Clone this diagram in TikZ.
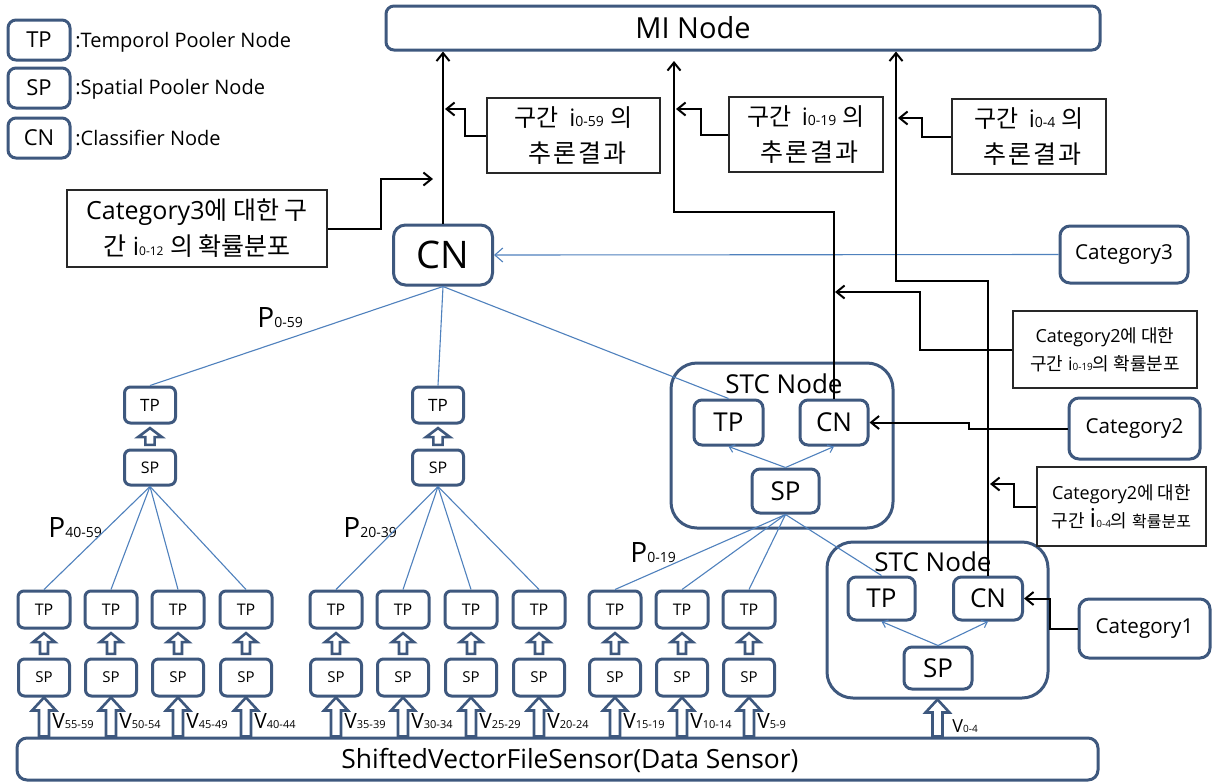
\documentclass[tikz,border=0pt]{standalone}
\usepackage{fontspec}
\setmainfont{Open Sans}
\newfontfamily\kr{Noto Sans CJK KR}
\newfontfamily\krw[LetterSpace=8]{Noto Sans CJK KR}
\usetikzlibrary{arrows.meta,calc}
\definecolor{boxblue}{RGB}{62,88,126}
\definecolor{lineblue}{RGB}{79,129,189}
\definecolor{frame}{RGB}{40,40,40}
\newcommand{\fsz}[2]{\fontsize{#1}{#2}\selectfont}
\newcommand{\sbx}[2]{{\fontsize{#1}{#1}\selectfont #2}}

\begin{document}
\begin{tikzpicture}[x=0.5pt,y=-0.5pt,
  wh/.style 2 args={minimum width=#1*0.5pt, minimum height=#2*0.5pt},
  rbox/.style={draw=boxblue, line width=1.5pt, fill=white, inner sep=0pt, align=center},
  note/.style={draw=frame, line width=0.7pt, fill=white, inner sep=0pt, align=center},
  conn/.style={draw=black, line width=1pt, -{Straight Barb[length=4pt,width=6.5pt]}},
  tree/.style={draw=lineblue, line width=0.55pt},
  feed/.style={draw=lineblue, line width=0.55pt, -{Straight Barb[length=2.5pt,width=4pt]}},
  hollowline/.style={draw=boxblue, line width=1.3pt, fill=white, line join=miter},
  hollow/.style n args={3}{to path={let \p1=(\tikztostart), \p2=(\tikztotarget) in
      (\x1-#1pt,\y1) -- (\x1-#1pt,\y2-#3pt) -- (\x1-#2pt,\y2-#3pt) -- (\x1,\y2)
      -- (\x1+#2pt,\y2-#3pt) -- (\x1+#1pt,\y2-#3pt) -- (\x1+#1pt,\y1) -- cycle}},
  legtxt/.style={anchor=west, inner sep=0pt, font=\fsz{10}{12}},
  plab/.style={anchor=base west, inner sep=0pt, font=\fsz{14}{16}},
  vlab/.style={anchor=base west, inner sep=0pt, font=\fsz{10.5}{12}},
]
\fill[white] (0,0) rectangle (1216,783);
\useasboundingbox (0,0) rectangle (1216,783);

% legend
\node[rbox, wh={62}{40}, rounded corners=4pt, font=\fsz{11}{13}] (lgTP) at (39,40) {TP};
\node[rbox, wh={62}{40}, rounded corners=4pt, font=\fsz{11}{13}] (lgSP) at (39,88) {SP};
\node[rbox, wh={62}{40}, rounded corners=4pt, font=\fsz{11}{13}] (lgCN) at (39,138) {CN};
\node[legtxt] (lgTPt) at (75,42) {:Temporol Pooler Node};
\node[legtxt] (lgSPt) at (75,89) {:Spatial Pooler Node};
\node[legtxt] (lgCNt) at (75,138) {:Classifier Node};

% top-level MI node
\node[rbox, wh={714}{44}, rounded corners=4pt] (mi) at (743,28) {};
\node[font=\fsz{14.5}{16}] (mitxt) at (693,28) {MI Node};

% classifier at the root of the hierarchy
\node[rbox, wh={99}{60}, rounded corners=6pt, font=\fsz{19}{22}] (cn) at (443,255) {CN};

% second-level pooler pairs
\node[rbox, wh={51}{36}, rounded corners=3pt, font=\fsz{8.5}{10}] (gTP1) at (150,405) {TP};
\node[rbox, wh={51}{35}, rounded corners=3pt, font=\fsz{8}{10}] (gSP1) at (150,467.5) {SP};
\node[rbox, wh={51}{36}, rounded corners=3pt, font=\fsz{8.5}{10}] (gTP2) at (438,405) {TP};
\node[rbox, wh={51}{35}, rounded corners=3pt, font=\fsz{8}{10}] (gSP2) at (438,467.5) {SP};

% upper STC node
\node[rbox, wh={222}{165}, rounded corners=13pt] (ustc) at (782,445.5) {};
\node[font=\fsz{13}{15}] (ustcT) at (784,384) {STC Node};
\node[rbox, wh={69}{45}, rounded corners=4pt, font=\fsz{13}{15}] (uTP) at (728.5,422.5) {TP};
\node[rbox, wh={68}{45}, rounded corners=4pt, font=\fsz{13}{15}] (uCN) at (834,422.5) {CN};
\node[rbox, wh={67}{44}, rounded corners=4pt, font=\fsz{13}{15}] (uSP) at (785.5,491) {SP};

% lower STC node
\node[rbox, wh={221}{156}, rounded corners=13pt] (lstc) at (937.5,620) {};
\node[font=\fsz{13}{15}] (lstcT) at (933,562) {STC Node};
\node[rbox, wh={67}{43}, rounded corners=4pt, font=\fsz{13}{15}] (lTP) at (881.5,598.5) {TP};
\node[rbox, wh={69}{43}, rounded corners=4pt, font=\fsz{13}{15}] (lCN) at (988,598.5) {CN};
\node[rbox, wh={68}{42}, rounded corners=4pt, font=\fsz{13}{15}] (lSP) at (938,668) {SP};

% bottom row of pooler pairs
\foreach \x [count=\i] in {44,111,178,246,336,403,471,539,615,682,749} {
  \node[rbox, wh={52}{37}, rounded corners=3pt, font=\fsz{8}{9}] (bTP\i) at (\x,609.5) {TP};
  \node[rbox, wh={51}{37}, rounded corners=3pt, font=\fsz{7.5}{9}] (bSP\i) at (\x,677.5) {SP};
}

% sensor
\node[rbox, wh={1081}{42}, rounded corners=5pt] (sensor) at (557.5,759) {};
\node[font=\fsz{13.2}{15}] (sensorTxt) at (570,760) {ShiftedVectorFileSensor(Data Sensor)};

% category inputs
\node[rbox, wh={128}{57}, rounded corners=5pt, font=\fsz{10.3}{12}] (cat3) at (1124,254.5) {Category3};
\node[rbox, wh={131}{61}, rounded corners=5pt, font=\fsz{10.3}{12}] (cat2) at (1134.5,428.5) {Category2};
\node[rbox, wh={131}{59}, rounded corners=5pt, font=\fsz{10.3}{12}] (cat1) at (1144.5,628.5) {Category1};

% annotation boxes
\node[note, wh={173}{75}, font=\fsz{12}{18}] (a59) at (573.5,135.5)
  {{\kr 구간} \,i\sbx{7}{0-59} {\kr 의}\\{\krw\fsz{12.5}{18} 추론결과}};
\node[note, wh={154}{75}, font=\fsz{12}{18}] (a19) at (806,134.5)
  {{\kr 구간} \,i\sbx{7}{0-19} {\kr 의}\\{\krw\fsz{12.5}{18} 추론결과}};
\node[note, wh={154}{75}, font=\fsz{12}{18}] (a4) at (1029,136.5)
  {{\kr 구간} \,i\sbx{7}{0-4} {\kr 의}\\{\krw\fsz{12.5}{18} 추론결과}};
\node[note, wh={260}{77}, font=\fsz{12.5}{18}] (c3) at (197,228.5)
  {Category3{\kr 에 대한 구}\\{\kr 간} i\sbx{6}{0-12} {\kr 의 확률분포}};
\node[note, wh={184}{77}, font=\fsz{9}{14}] (c2a) at (1105,349.5)
  {Category2{\kr 에 대한}\\{\kr 구간} i\sbx{5}{0-19}{\kr 의 확률분포}};
\node[note, wh={169}{79}, font=\fsz{9}{14}] (c2b) at (1121.5,506.5)
  {Category2{\kr 에 대한}\\{\kr 구간} {\fsz{13}{13}i}\sbx{5}{0-4}{\kr 의} {\kr\fsz{8}{8}확률분포}};

% range labels
\node[plab] (p059) at (257,327) {P\sbx{7}{0-59}};
\node[plab] (p4059) at (48,537) {P\sbx{7}{40-59}};
\node[plab] (p2039) at (343,537) {P\sbx{7}{20-39}};
\node[plab] (p019) at (630,562) {P\sbx{7}{0-19}};

\foreach \t [count=\i] in {55-59,50-54,45-49,40-44,35-39,30-34,25-29,20-24,15-19,10-14,5-9}
  \node[vlab] (v\i) at ($(bSP\i.south)+(8,31)$) {V\sbx{5.5}{\t}};
\node[vlab, font=\fsz{9}{11}] (v0) at (952,732) {V\sbx{5}{0-4}};

% tree links
\draw[tree] (cn.south) -- (gTP1.north);
\draw[tree] (cn.south) -- (gTP2.north);
\draw[tree] (cn.south) -- (uTP.north);
\foreach \i in {1,...,4} \draw[tree] (gSP1.south) -- (bTP\i.north);
\foreach \i in {5,...,8} \draw[tree] (gSP2.south) -- (bTP\i.north);
\foreach \i in {9,10,11} \draw[tree] (uSP.south) -- (bTP\i.north);
\draw[tree] (uSP.south) -- (lTP.north);

% feeds inside the STC nodes
\draw[feed] (uSP.north) -- (uTP.south);
\draw[feed] (uSP.north) -- (uCN.south);
\draw[feed] (lSP.north) -- (lTP.south);
\draw[feed] (lSP.north) -- (lCN.south);

\draw[tree, -{Straight Barb[length=4pt,width=7pt]}] (cat3.west) -- (cn.east);

% hollow block arrows
\foreach \i in {1,...,11} {
  \draw[hollowline] ([yshift=1.8pt]bSP\i.north) to[hollow={2}{5.5}{4.5}] ([yshift=-1.8pt]bTP\i.south);
  \draw[hollowline] (bSP\i.south |- sensor.north) to[hollow={2.5}{6}{6.5}] (bSP\i.south);
}
\draw[hollowline] ([yshift=1.8pt]gSP1.north) to[hollow={2.3}{6}{4.5}] ([yshift=-1.8pt]gTP1.south);
\draw[hollowline] ([yshift=1.8pt]gSP2.north) to[hollow={2.3}{6}{4.5}] ([yshift=-1.8pt]gTP2.south);
\draw[hollowline] (lstc.south |- sensor.north) to[hollow={2.5}{6}{6.5}] (lstc.south);

% inference results up to the MI node
\draw[conn] (cn.north) -- (cn.north |- mi.south);
\coordinate (m2) at (674,61);
\coordinate (k2) at (674,212);
\draw[conn] (uCN.north) |- (k2) -- (m2);
\coordinate (k3) at (896,281);
\draw[conn] (lCN.north) |- (k3) -- (k3 |- mi.south);

% annotation pointers
\coordinate (t59) at (445,109);
\draw[conn] (a59.west) -- ++(-21,0) |- (t59);
\coordinate (t19) at (676,109);
\draw[conn] (a19.west) -- ++(-27,0) |- (t19);
\coordinate (t4) at (898,118);
\draw[conn] (a4.west) -- ++(-29,0) |- (t4);
\coordinate (t3) at (433,179);
\draw[conn] (c3.east) -- ++(53,0) |- (t3);
\coordinate (t2a) at (835,292);
\draw[conn] (c2a.west) -- ++(-92,0) |- (t2a);
\coordinate (t2b) at (990,484);
\draw[conn] (c2b.west) -- ++(-22,0) |- (t2b);
\draw[conn] (cat2.west) -- ++(-99,0) |- (uCN.east);
\draw[conn] (cat1.west) -- ++(-28,0) |- (lCN.east);
\end{tikzpicture}
\end{document}
